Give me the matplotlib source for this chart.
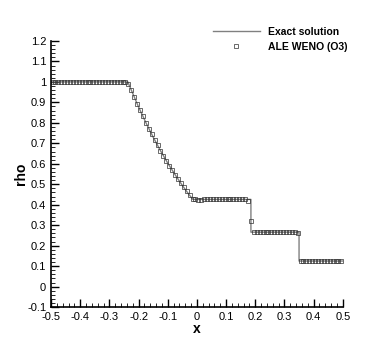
import numpy as np
import matplotlib.pyplot as plt
from matplotlib.ticker import MultipleLocator, FuncFormatter

plt.rcParams['font.family'] = ['Liberation Sans', 'DejaVu Sans']

# exact solution
x_exact = [-0.5, -0.237, -0.225, -0.2, -0.175, -0.15, -0.125, -0.1, -0.075,
           -0.05, -0.03, -0.014, 0.185, 0.185, 0.35, 0.35, 0.5]
rho_exact = [1.0, 1.0, 0.960, 0.877, 0.801, 0.730, 0.664, 0.603, 0.547,
             0.494, 0.455, 0.426, 0.426, 0.266, 0.266, 0.125, 0.125]

# numerical solution, cell centres
x_num = np.arange(-0.495, 0.5, 0.01)
rho_num = ([1.0] * 25 + [0.998, 0.992,
           0.960, 0.926, 0.894, 0.862, 0.831, 0.801, 0.772, 0.744, 0.716,
           0.690, 0.664, 0.639, 0.615, 0.591, 0.569, 0.547, 0.525, 0.504,
           0.485, 0.465, 0.446, 0.430, 0.427]
           + [0.422, 0.424] + [0.426] * 15 + [0.420]
           + [0.320]
           + [0.266] * 15 + [0.262]
           + [0.125] * 15)

fig = plt.figure(figsize=(3.9, 3.47), dpi=100)
ax = fig.add_axes([0.131, 0.115, 0.748, 0.767])

ax.plot(x_exact, rho_exact, color='#808080', lw=1.0, label='Exact solution')
ax.plot(x_num, rho_num, ls='none', marker='s', ms=2.6, mfc='none',
        mec='#303030', mew=0.5, label='ALE WENO (O3)')

fmt = FuncFormatter(lambda v, p: '%g' % round(v, 6))
ax.set_xlim(-0.5, 0.5)
ax.set_ylim(-0.1, 1.2)
ax.xaxis.set_major_locator(MultipleLocator(0.1))
ax.xaxis.set_minor_locator(MultipleLocator(0.02))
ax.yaxis.set_major_locator(MultipleLocator(0.1))
ax.yaxis.set_minor_locator(MultipleLocator(0.02))
ax.xaxis.set_major_formatter(fmt)
ax.yaxis.set_major_formatter(fmt)
ax.tick_params(which='both', direction='in', labelsize=8, width=1)
ax.tick_params(which='major', length=6)
ax.tick_params(which='minor', length=3, width=0.6)
ax.spines['top'].set_visible(False)
ax.spines['right'].set_visible(False)
ax.spines['left'].set_linewidth(1.2)
ax.spines['bottom'].set_linewidth(1.2)

ax.set_xlabel('x', fontsize=10, fontweight='bold', labelpad=0)
ax.set_ylabel('rho', fontsize=10, fontweight='bold')
ax.yaxis.set_label_coords(-0.08, 0.5)

leg = ax.legend(loc='upper right', bbox_to_anchor=(1.04, 1.08), frameon=False,
                prop={'weight': 'bold', 'size': 7.5}, handlelength=4.5,
                labelspacing=0.45, handletextpad=0.75, borderpad=0.2)

fig.savefig('out.png', dpi=100)
